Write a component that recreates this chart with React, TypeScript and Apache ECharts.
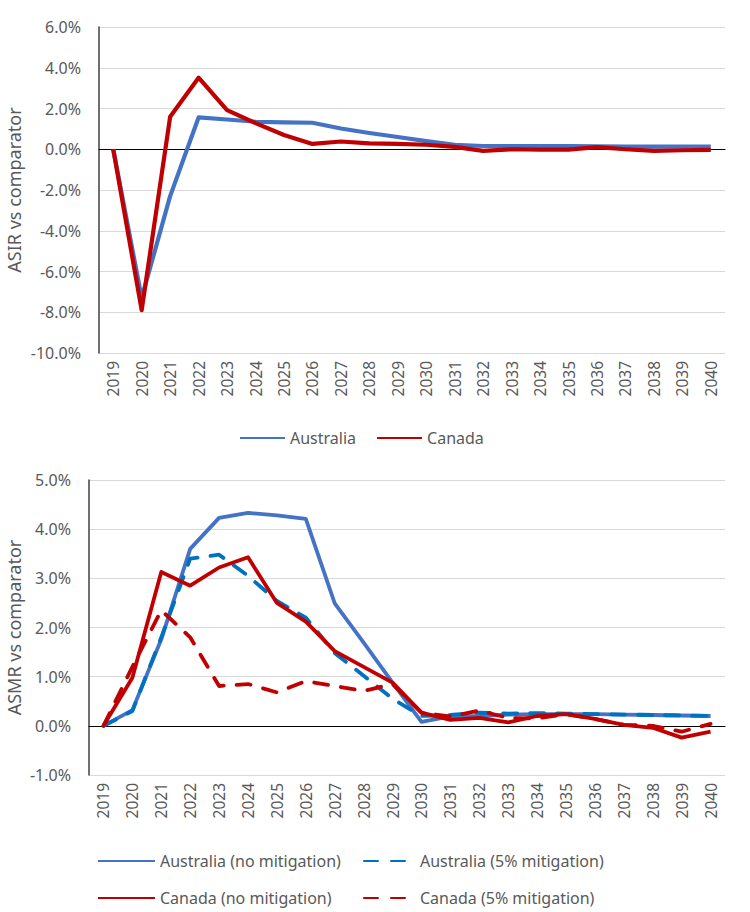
import React, { useEffect, useRef } from "react";
import * as echarts from "echarts";

const years = ["2019","2020","2021","2022","2023","2024","2025","2026","2027","2028","2029","2030","2031","2032","2033","2034","2035","2036","2037","2038","2039","2040"];

// Top chart: ASIR vs comparator (%)
const asirAustralia = [0, -7.3, -2.3, 1.56, 1.46, 1.35, 1.32, 1.3, 1.02, 0.8, 0.6, 0.4, 0.22, 0.16, 0.15, 0.15, 0.15, 0.14, 0.13, 0.13, 0.13, 0.13];
const asirCanada = [0, -7.9, 1.59, 3.51, 1.92, 1.28, 0.7, 0.26, 0.38, 0.29, 0.26, 0.22, 0.12, -0.08, 0.0, -0.02, -0.02, 0.1, 0.0, -0.08, -0.05, -0.03];

// Bottom chart: ASMR vs comparator (%)
const asmrAusNo = [0, 0.32, 1.76, 3.6, 4.23, 4.33, 4.28, 4.21, 2.49, 1.69, 0.88, 0.08, 0.19, 0.2, 0.23, 0.24, 0.24, 0.24, 0.23, 0.22, 0.21, 0.2];
const asmrAus5 = [0, 0.3, 1.8, 3.4, 3.48, 3.05, 2.54, 2.2, 1.48, 1.02, 0.55, 0.2, 0.22, 0.27, 0.25, 0.26, 0.25, 0.24, 0.23, 0.22, 0.21, 0.2];
const asmrCanNo = [0, 0.98, 3.13, 2.85, 3.22, 3.43, 2.5, 2.12, 1.52, 1.2, 0.88, 0.27, 0.12, 0.16, 0.07, 0.2, 0.24, 0.14, 0.02, -0.04, -0.24, -0.12];
const asmrCan5 = [0, 1.2, 2.35, 1.8, 0.81, 0.85, 0.68, 0.91, 0.81, 0.71, 0.85, 0.27, 0.19, 0.31, 0.16, 0.15, 0.24, 0.14, 0.02, 0.0, -0.12, 0.04];

const topTicks = { min: -10, max: 6, interval: 2 };
const bottomTicks = { min: -1, max: 5, interval: 1 };

const FONT = "Noto Sans";
const TXT = "#595959";
const BLUE = "#4472C4";
const BLUE2 = "#0070C0";
const RED = "#C00000";

export default function App() {
  const ref = useRef<HTMLDivElement>(null);
  useEffect(() => {
    if (!ref.current) return;
    const chart = echarts.init(ref.current, null, { renderer: "svg" });
    const pct = (v: number) => v.toFixed(1) + "%";
    const xLabelAxis = (gi: number) => ({
      type: "category",
      gridIndex: gi,
      data: years,
      boundaryGap: true,
      axisLine: { show: false, onZero: false },
      axisTick: { show: false },
      axisLabel: { interval: 0, rotate: 90, fontSize: 15.5, color: TXT, fontFamily: FONT, margin: 8 },
      splitLine: { show: false },
    });
    const xZeroAxis = (gi: number, yi: number) => ({
      type: "category",
      gridIndex: gi,
      data: years,
      boundaryGap: true,
      position: "bottom",
      axisLine: { show: true, onZero: true, onZeroAxisIndex: yi, lineStyle: { color: "#000", width: 1.2 } },
      axisTick: { show: false },
      axisLabel: { show: false },
      splitLine: { show: false },
    });
    const yAx = (gi: number, t: any, name: string, gap: number) => ({
      type: "value",
      gridIndex: gi,
      min: t.min,
      max: t.max,
      interval: t.interval,
      name,
      nameLocation: "middle",
      nameGap: gap,
      nameMoveOverlap: false,
      nameTextStyle: { fontSize: 18, color: TXT, fontFamily: FONT },
      axisLine: { show: true, lineStyle: { color: "#404040", width: 1.5 } },
      axisTick: { show: false },
      axisLabel: { formatter: pct, fontSize: 16, color: TXT, fontFamily: FONT, margin: 18 },
      splitLine: { show: true, lineStyle: { color: "#D9D9D9", width: 1.2 } },
    });
    const line = (name: string, data: number[], color: string, xi: number, yi: number, width: number, dashed: boolean) => ({
      type: "line",
      name,
      data,
      xAxisIndex: xi,
      yAxisIndex: yi,
      symbol: "none",
      showSymbol: false,
      lineStyle: { color, width, type: dashed ? [14, 13] : "solid", cap: dashed ? "round" : "butt", join: "round" },
      itemStyle: { color },
      z: 3,
    });
    const legendBase = {
      orient: "horizontal",
      itemHeight: 14,
      itemStyle: { opacity: 0 },
      textStyle: { fontSize: 16, color: TXT, fontFamily: FONT },
      selectedMode: false,
      padding: 0,
    };
    chart.setOption({
      animation: false,
      backgroundColor: "#fff",
      textStyle: { fontFamily: FONT },
      grid: [
        { left: 99, top: 27, width: 626, height: 326, containLabel: false, outerBoundsMode: "none" },
        { left: 89, top: 480, width: 636, height: 295, containLabel: false, outerBoundsMode: "none" },
      ],
      xAxis: [xLabelAxis(0), xZeroAxis(0, 0), xLabelAxis(1), xZeroAxis(1, 1)],
      yAxis: [yAx(0, topTicks, "ASIR vs comparator", 76), yAx(1, bottomTicks, "ASMR vs comparator", 66)],
      legend: [
        { ...legendBase, data: ["Australia", "Canada"], left: 239, top: 430, itemWidth: 45, itemGap: 20 },
        { ...legendBase, data: ["Australia (no mitigation)"], left: 97, top: 853, itemWidth: 57 },
        { ...legendBase, data: ["Australia (5% mitigation)"], left: 363, top: 853, itemWidth: 51 },
        { ...legendBase, data: ["Canada (no mitigation)"], left: 97, top: 890, itemWidth: 57 },
        { ...legendBase, data: ["Canada (5% mitigation)"], left: 363, top: 890, itemWidth: 51 },
      ],
      series: [
        line("Australia", asirAustralia, BLUE, 0, 0, 4.2, false),
        line("Canada", asirCanada, RED, 0, 0, 4.2, false),
        line("Australia (no mitigation)", asmrAusNo, BLUE, 2, 1, 3.8, false),
        line("Australia (5% mitigation)", asmrAus5, BLUE2, 2, 1, 3.8, true),
        line("Canada (no mitigation)", asmrCanNo, RED, 2, 1, 3.8, false),
        line("Canada (5% mitigation)", asmrCan5, RED, 2, 1, 3.8, true),
      ],
    });
    return () => chart.dispose();
  }, []);
  return <div ref={ref} style={{ position: "fixed", left: 0, top: 0, width: 750, height: 912 }} />;
}
